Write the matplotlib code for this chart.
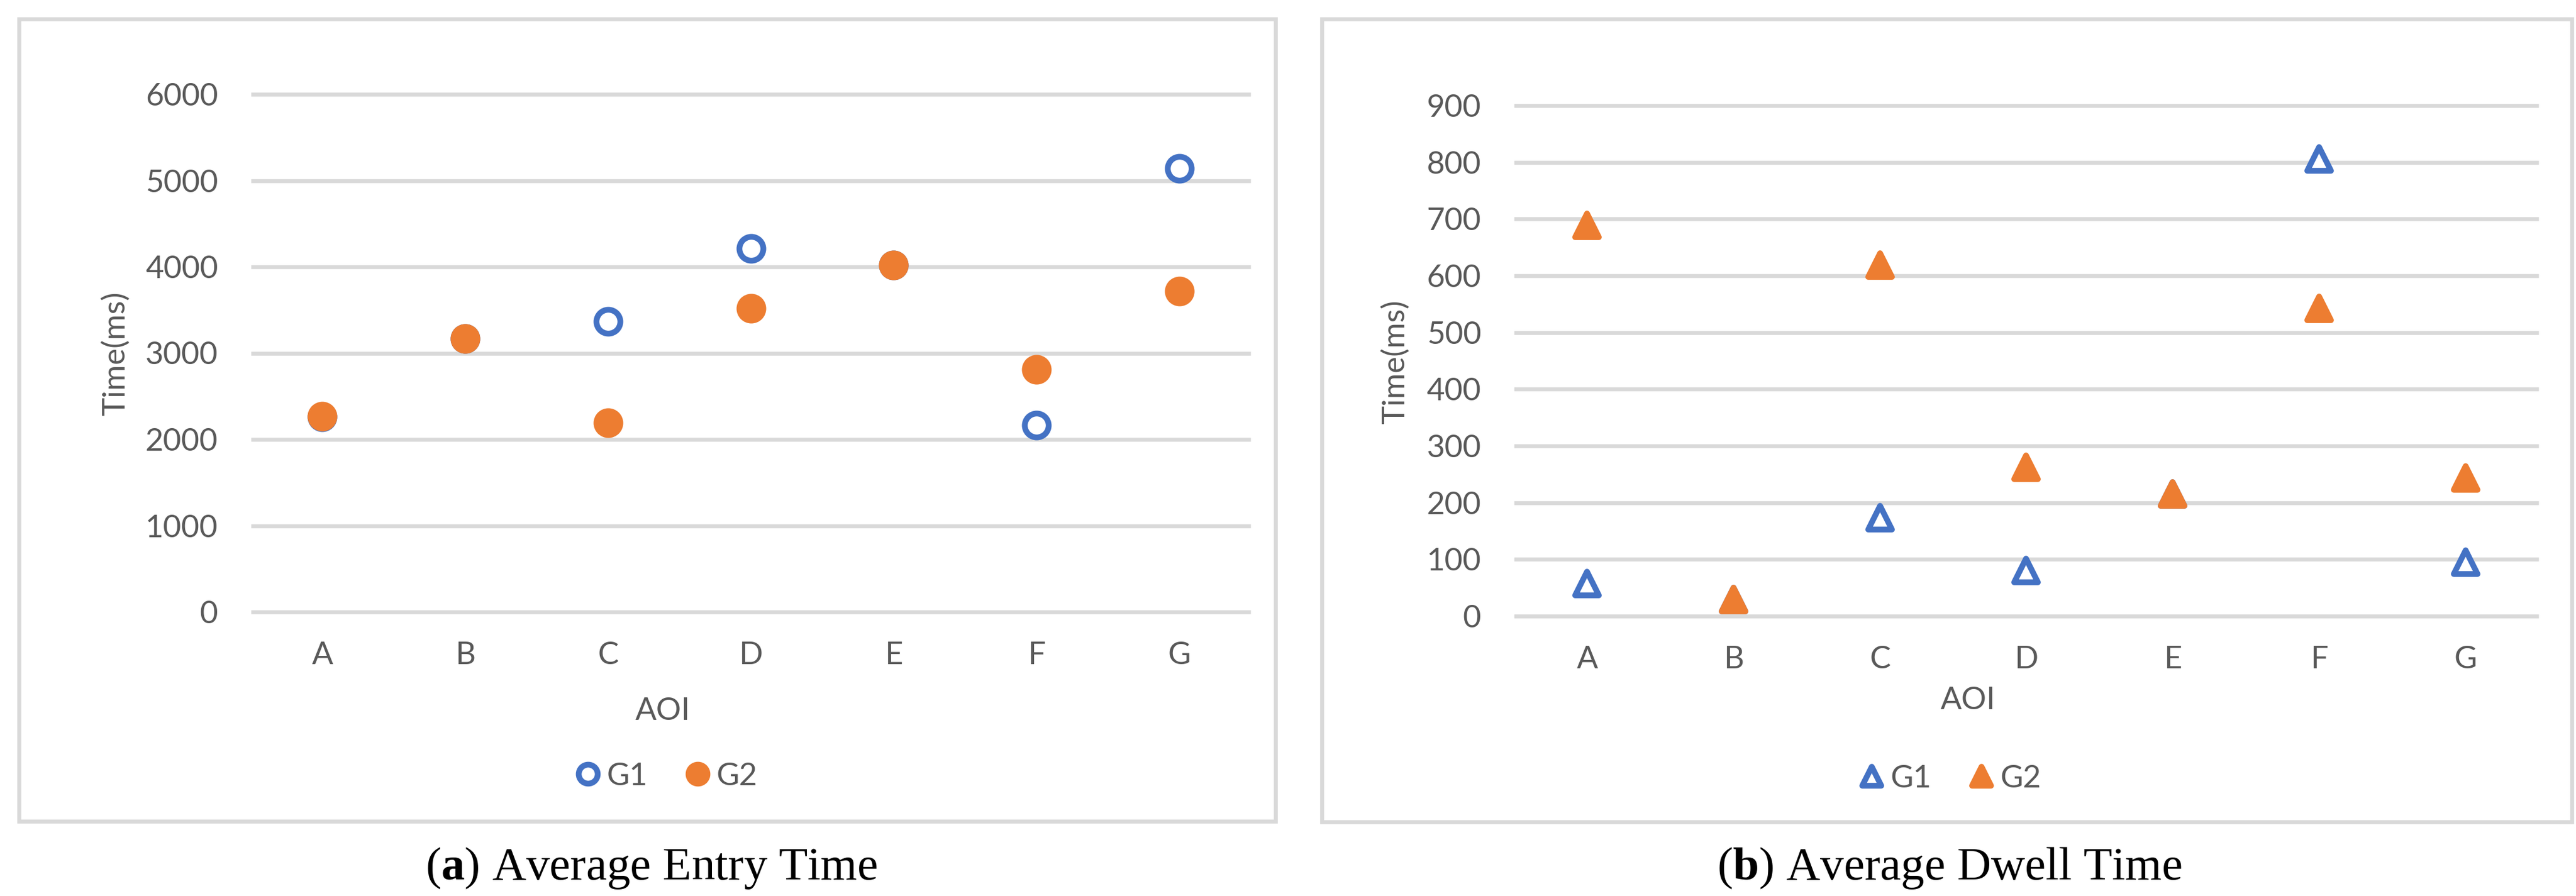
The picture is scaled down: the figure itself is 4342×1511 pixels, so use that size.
import numpy as np
import matplotlib
matplotlib.use("Agg")
import matplotlib.pyplot as plt
from matplotlib.lines import Line2D
from matplotlib.markers import MarkerStyle
from matplotlib.patches import Rectangle

# data
aoi = ["A", "B", "C", "D", "E", "F", "G"]
entry_g1 = [2258, 3167, 3367, 4213, 4020, 2167, 5140]
entry_g2 = [2265, 3167, 2193, 3520, 4020, 2813, 3720]
dwell_g1 = [57, 29, 174, 80, 215, 806, 95]
dwell_g2 = [689, 29, 619, 262, 215, 542, 244]
entry_ticks = [0, 1000, 2000, 3000, 4000, 5000, 6000]
dwell_ticks = [0, 100, 200, 300, 400, 500, 600, 700, 800, 900]

BLUE = "#4472C4"
ORANGE = "#ED7D31"
GRID = "#D9D9D9"
TXT = "#595959"

W, H = 4342, 1511
DPI = 100
plt.rcParams["font.family"] = ["Lato", "DejaVu Sans"]
plt.rcParams["mathtext.fontset"] = "custom"
plt.rcParams["mathtext.rm"] = "Liberation Serif"
plt.rcParams["mathtext.bf"] = "Liberation Serif:bold"

fig = plt.figure(figsize=(W / DPI, H / DPI), dpi=DPI)


def px_box(x0, y0, x1, y1):
    # pixel box (top-left origin) -> figure fraction [l, b, w, h]
    return [x0 / W, (H - y1) / H, (x1 - x0) / W, (y1 - y0) / H]


def panel(rect, g1, g2, ticks, marker, ylab_xy, xlab_xy, leg_xy, caption, cap_xy):
    ax = fig.add_axes(rect)
    x = np.arange(len(aoi))
    mk = MarkerStyle(marker, joinstyle="round")
    ax.hlines(ticks, -0.5, len(aoi) - 0.5, colors=GRID, lw=4.8, zorder=0, clip_on=False)
    ms, mew = 29, 7
    ax.plot(x, g1, ls="none", marker=mk, ms=ms, mew=mew, mec=BLUE, mfc="white",
            clip_on=False, zorder=3)
    ax.plot(x, g2, ls="none", marker=mk, ms=ms, mew=mew, mec=ORANGE, mfc=ORANGE,
            clip_on=False, zorder=4)
    ax.set_xlim(-0.5, len(aoi) - 0.5)
    ax.set_ylim(ticks[0], ticks[-1])
    ax.set_xticks(x)
    ax.set_xticklabels(aoi)
    ax.set_yticks(ticks)
    ax.tick_params(length=0, labelsize=38, labelcolor=TXT)
    ax.tick_params(axis="y", pad=40)
    ax.tick_params(axis="x", pad=36)
    for s in ax.spines.values():
        s.set_visible(False)

    fig.text(ylab_xy[0] / W, 1 - ylab_xy[1] / H, "Time(ms)", rotation=90,
             ha="center", va="center", fontsize=38, color=TXT)
    fig.text(xlab_xy[0] / W, 1 - xlab_xy[1] / H, "AOI",
             ha="center", va="center", fontsize=38, color=TXT)

    handles = [
        Line2D([], [], ls="none", marker=mk, ms=23, mew=7, mec=BLUE, mfc="white"),
        Line2D([], [], ls="none", marker=mk, ms=23, mew=7, mec=ORANGE, mfc=ORANGE),
    ]
    fig.legend(handles, ["G1", "G2"], loc="center", ncol=2,
               bbox_to_anchor=(leg_xy[0] / W, 1 - leg_xy[1] / H),
               frameon=False, fontsize=38, labelcolor=TXT,
               handlelength=0.8, handletextpad=0.2, columnspacing=1.2, borderpad=0)

    fig.text(cap_xy[0] / W, 1 - cap_xy[1] / H, caption, ha="center", va="baseline",
             fontsize=57, family="Liberation Serif", color="black")
    return ax


panel(px_box(423, 159, 2108, 1032), entry_g1, entry_g2, entry_ticks, "o",
      (195, 596), (1117, 1199), (1123, 1309),
      r"($\mathbf{a}$) Average Entry Time", (1098, 1483))
panel(px_box(2552, 178, 4279, 1039), dwell_g1, dwell_g2, dwell_ticks, "^",
      (2352, 610), (3317, 1182), (3287, 1313),
      r"($\mathbf{b}$) Average Dwell Time", (3286, 1483))

# light grey frames round each chart
for x0, y0, x1, y1 in [(31.5, 31.5, 2149.5, 1384.5), (2227.5, 31.5, 4335, 1386)]:
    l, b, w, h = px_box(x0, y0, x1, y1)
    fig.patches.append(Rectangle((l, b), w, h, transform=fig.transFigure,
                                 fill=False, ec=GRID, lw=4.8))

fig.savefig("out.png", dpi=DPI)
